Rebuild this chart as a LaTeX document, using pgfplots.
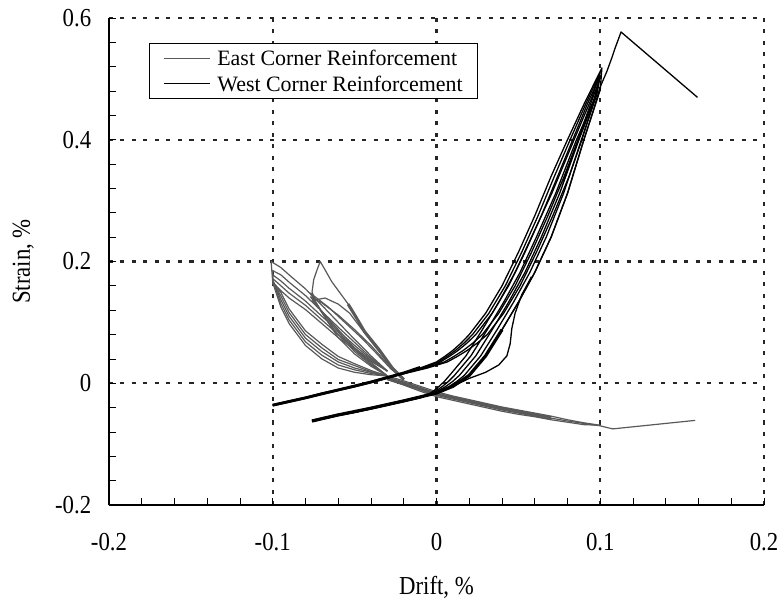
\documentclass[border=0pt]{standalone}
\usepackage{fontspec}
\setmainfont{Liberation Serif}
\newfontfamily\tallfont{Liberation Serif}[FakeStretch=0.88]
\usepackage{pgfplots}
\pgfplotsset{compat=1.18}
\definecolor{eastgray}{HTML}{595959}
\tikzset{
  east/.style={eastgray, line width=1.2bp, line join=round},
  west/.style={black, line width=1.3bp, line join=round},
}

\begin{document}
\fontsize{23}{27}\selectfont
\begin{tikzpicture}
\path[use as bounding box] (-109bp,-99bp) rectangle (674bp,505bp);
\begin{axis}[
  at={(0,0)}, anchor=south west,
  scale only axis, width=655bp, height=487bp,
  xmin=-0.2, xmax=0.2, ymin=-0.2, ymax=0.6,
  xtick={-0.2,-0.1,0,0.1,0.2},
  ytick={-0.2,0,0.2,0.4,0.6},
  minor x tick num=4, minor y tick num=4,
  axis x line*=bottom, axis y line*=left,
  tick align=inside,
  major tick length=7bp, minor tick length=7bp,
  every tick/.style={black, line width=0.8bp},
  axis line style={black, line width=1.3bp},
  grid=major,
  major grid style={black!85, line width=2.4bp, dash pattern=on 4bp off 7.5bp},
  tick label style={font=\tallfont\fontsize{26}{30}\selectfont},
  /pgf/number format/assume math mode=true,
  xticklabel style={yshift=-20bp},
  yticklabel style={xshift=-10bp},
  xlabel={Drift, \%}, ylabel={Strain, \%},
  label style={font=\tallfont\fontsize{26}{30}\selectfont},
  xlabel style={at={(axis description cs:0.5,-0.17)}, anchor=center},
  ylabel style={at={(axis description cs:-0.131,0.5)}, anchor=center},
]

% ---------------- East corner (grey) ----------------
% band towards positive drift
\addplot[east, line width=3.5bp] coordinates {
  (-0.030,0.008) (-0.020,0.000) (-0.010,-0.009) (0.000,-0.018) (0.010,-0.024)
  (0.020,-0.030) (0.030,-0.036) (0.040,-0.042) (0.050,-0.047) (0.060,-0.052)
  (0.070,-0.057)};
\addplot[east] coordinates {
  (-0.030,0.012) (-0.020,0.004) (-0.010,-0.005) (0.000,-0.014) (0.010,-0.021)
  (0.020,-0.027) (0.030,-0.033) (0.040,-0.039) (0.050,-0.044) (0.060,-0.049)
  (0.070,-0.054) (0.080,-0.060) (0.090,-0.065) (0.100,-0.069)
  (0.090,-0.068) (0.080,-0.064) (0.070,-0.060) (0.060,-0.055) (0.050,-0.051)
  (0.040,-0.046) (0.030,-0.040) (0.020,-0.034) (0.010,-0.028) (0.000,-0.022)
  (-0.010,-0.013) (-0.020,-0.003) (-0.030,0.006)};
\addplot[east] coordinates {
  (-0.025,0.004) (0.000,-0.019) (0.050,-0.048) (0.080,-0.062) (0.090,-0.066)
  (0.100,-0.070) (0.1076,-0.075) (0.158,-0.061)};
% loops at drift -0.1
\addplot[east] coordinates {
  (-0.030,0.012) (-0.040,0.014) (-0.050,0.018) (-0.060,0.025) (-0.070,0.040)
  (-0.080,0.062) (-0.090,0.098) (-0.095,0.125) (-0.100,0.165) (-0.101,0.200)
  (-0.095,0.190) (-0.090,0.178) (-0.080,0.155) (-0.070,0.128) (-0.060,0.100)
  (-0.050,0.072) (-0.040,0.045) (-0.030,0.020)};
\addplot[east] coordinates {
  (-0.030,0.012) (-0.040,0.016) (-0.050,0.022) (-0.060,0.030) (-0.070,0.046)
  (-0.080,0.068) (-0.090,0.104) (-0.095,0.131) (-0.100,0.168) (-0.100,0.185)
  (-0.095,0.178) (-0.090,0.166) (-0.080,0.144) (-0.070,0.118) (-0.060,0.092)
  (-0.050,0.067) (-0.040,0.042) (-0.030,0.020)};
\addplot[east] coordinates {
  (-0.030,0.012) (-0.040,0.018) (-0.050,0.025) (-0.060,0.035) (-0.070,0.052)
  (-0.080,0.074) (-0.090,0.110) (-0.095,0.137) (-0.100,0.170) (-0.100,0.178)
  (-0.095,0.168) (-0.090,0.156) (-0.080,0.135) (-0.070,0.110) (-0.060,0.086)
  (-0.050,0.062) (-0.040,0.040) (-0.030,0.020)};
\addplot[east] coordinates {
  (-0.030,0.012) (-0.040,0.019) (-0.050,0.029) (-0.060,0.039) (-0.070,0.058)
  (-0.080,0.080) (-0.090,0.116) (-0.095,0.143) (-0.100,0.168) (-0.100,0.172)
  (-0.095,0.160) (-0.090,0.148) (-0.080,0.128) (-0.070,0.104) (-0.060,0.080)
  (-0.050,0.058) (-0.040,0.038) (-0.030,0.020)};
\addplot[east] coordinates {
  (-0.030,0.012) (-0.040,0.021) (-0.050,0.032) (-0.060,0.044) (-0.070,0.064)
  (-0.080,0.086) (-0.090,0.122) (-0.095,0.149) (-0.100,0.164) (-0.100,0.166)
  (-0.095,0.152) (-0.090,0.140) (-0.080,0.121) (-0.070,0.098) (-0.060,0.075)
  (-0.050,0.055) (-0.040,0.036) (-0.030,0.020)};
% loops at drift -0.075
\addplot[east] coordinates {
  (-0.030,0.012) (-0.040,0.028) (-0.050,0.048) (-0.060,0.075) (-0.065,0.095)
  (-0.070,0.117) (-0.074,0.135) (-0.076,0.150) (-0.075,0.170) (-0.073,0.186)
  (-0.071,0.200) (-0.068,0.186) (-0.064,0.167) (-0.058,0.145) (-0.052,0.123)
  (-0.044,0.085) (-0.035,0.055) (-0.027,0.025) (-0.020,0.008)};
\addplot[east] coordinates {
  (-0.030,0.012) (-0.040,0.030) (-0.050,0.052) (-0.060,0.080) (-0.066,0.100)
  (-0.071,0.120) (-0.075,0.138) (-0.077,0.148) (-0.066,0.125) (-0.056,0.100)
  (-0.046,0.075) (-0.037,0.050) (-0.028,0.024) (-0.020,0.006)};
\addplot[east] coordinates {
  (-0.030,0.012) (-0.040,0.032) (-0.050,0.055) (-0.060,0.084) (-0.066,0.104)
  (-0.072,0.125) (-0.077,0.142) (-0.070,0.132) (-0.060,0.112) (-0.050,0.088)
  (-0.040,0.062) (-0.032,0.038) (-0.025,0.018) (-0.020,0.006)};
\addplot[east] coordinates {
  (-0.030,0.012) (-0.040,0.034) (-0.050,0.058) (-0.060,0.088) (-0.068,0.112)
  (-0.074,0.130) (-0.076,0.136) (-0.068,0.140) (-0.060,0.130) (-0.053,0.115)
  (-0.046,0.090) (-0.038,0.062) (-0.030,0.035) (-0.022,0.010)};
\addplot[east, line width=3bp] coordinates {
  (-0.054,0.130) (-0.049,0.108) (-0.044,0.085) (-0.035,0.055) (-0.027,0.025)
  (-0.020,0.006)};

% ---------------- West corner (black) ----------------
% thick overlapping parts
\addplot[west, line width=3.2bp] coordinates {
  (-0.076,-0.062) (-0.060,-0.052) (-0.040,-0.041) (-0.020,-0.029)
  (0.000,-0.016) (0.010,-0.005) (0.020,0.013) (0.030,0.045) (0.040,0.088)};
\addplot[west, line width=2.8bp] coordinates {
  (-0.100,-0.036) (-0.080,-0.024) (-0.060,-0.011) (-0.040,0.002)
  (-0.020,0.017) (-0.010,0.026)};
% first loading branch
\addplot[west] coordinates {
  (0.000,-0.016) (0.010,-0.005) (0.020,0.008) (0.030,0.018) (0.038,0.030)
  (0.043,0.045) (0.045,0.065) (0.046,0.090) (0.048,0.115) (0.052,0.145)
  (0.058,0.175)};
% loop 1
\addplot[west] coordinates {
  (-0.076,-0.062) (-0.070,-0.058) (-0.060,-0.052) (-0.050,-0.047) (-0.040,-0.041)
  (-0.030,-0.035) (-0.020,-0.029) (-0.010,-0.023) (0.000,-0.016) (0.005,-0.011)
  (0.010,-0.005) (0.015,0.003) (0.020,0.013) (0.030,0.045) (0.040,0.088)
  (0.050,0.133) (0.060,0.182) (0.070,0.240) (0.080,0.312) (0.090,0.400)
  (0.100,0.482) (0.101,0.518)
  (0.090,0.458) (0.080,0.400) (0.070,0.340) (0.060,0.275) (0.050,0.215)
  (0.040,0.160) (0.030,0.115) (0.020,0.080) (0.015,0.066) (0.010,0.054)
  (0.005,0.044) (0.000,0.035) (-0.010,0.025) (-0.020,0.017) (-0.030,0.009)
  (-0.040,0.002) (-0.050,-0.005) (-0.060,-0.011) (-0.070,-0.017) (-0.080,-0.024)
  (-0.090,-0.030) (-0.100,-0.036)};
% loop 2
\addplot[west] coordinates {
  (-0.076,-0.061) (-0.070,-0.057) (-0.060,-0.051) (-0.050,-0.046) (-0.040,-0.040)
  (-0.030,-0.034) (-0.020,-0.028) (-0.010,-0.022) (-0.0009,-0.016) (0.0035,-0.011)
  (0.0079,-0.005) (0.0124,0.003) (0.017,0.013) (0.027,0.045) (0.037,0.088)
  (0.047,0.133) (0.057,0.182) (0.067,0.240) (0.0776,0.312) (0.0885,0.400)
  (0.098,0.475) (0.100,0.505)
  (0.092,0.458) (0.0832,0.400) (0.074,0.340) (0.064,0.275) (0.054,0.215)
  (0.044,0.160) (0.034,0.115) (0.024,0.080) (0.0186,0.066) (0.0132,0.054)
  (0.0078,0.044) (0.0024,0.035) (-0.0084,0.025) (-0.0192,0.017) (-0.030,0.010)
  (-0.040,0.003) (-0.050,-0.004) (-0.060,-0.010) (-0.070,-0.016) (-0.080,-0.023)
  (-0.090,-0.029) (-0.100,-0.035)};
% loop 3
\addplot[west] coordinates {
  (-0.076,-0.063) (-0.070,-0.059) (-0.060,-0.053) (-0.050,-0.048) (-0.040,-0.042)
  (-0.030,-0.036) (-0.020,-0.030) (-0.010,-0.024) (-0.0018,-0.016) (0.002,-0.011)
  (0.0058,-0.005) (0.0099,0.003) (0.014,0.013) (0.024,0.045) (0.034,0.088)
  (0.044,0.133) (0.054,0.182) (0.064,0.240) (0.0752,0.312) (0.087,0.400)
  (0.097,0.470) (0.099,0.495)
  (0.094,0.458) (0.0864,0.400) (0.078,0.340) (0.068,0.275) (0.058,0.215)
  (0.048,0.160) (0.038,0.115) (0.028,0.080) (0.0222,0.066) (0.0164,0.054)
  (0.0106,0.044) (0.0048,0.035) (-0.0068,0.025) (-0.0184,0.017) (-0.030,0.008)
  (-0.040,0.001) (-0.050,-0.006) (-0.060,-0.012) (-0.070,-0.018) (-0.080,-0.025)
  (-0.090,-0.031) (-0.100,-0.037)};
% loop 4
\addplot[west] coordinates {
  (-0.075,-0.062) (-0.070,-0.058) (-0.060,-0.052) (-0.050,-0.047) (-0.040,-0.041)
  (-0.030,-0.035) (-0.020,-0.029) (-0.010,-0.023) (-0.0027,-0.016) (0.0005,-0.011)
  (0.0037,-0.005) (0.0073,0.003) (0.011,0.013) (0.021,0.045) (0.031,0.088)
  (0.041,0.133) (0.051,0.182) (0.061,0.240) (0.0728,0.312) (0.0855,0.400)
  (0.096,0.465) (0.099,0.490)
  (0.0955,0.458) (0.0888,0.400) (0.081,0.340) (0.071,0.275) (0.061,0.215)
  (0.051,0.160) (0.041,0.115) (0.031,0.080) (0.0249,0.066) (0.0188,0.054)
  (0.0127,0.044) (0.0066,0.035) (-0.0056,0.025) (-0.0178,0.017) (-0.030,0.009)
  (-0.040,0.002) (-0.050,-0.005) (-0.060,-0.011) (-0.070,-0.017) (-0.080,-0.024)
  (-0.090,-0.030) (-0.100,-0.036)};
% loop 5
\addplot[west] coordinates {
  (-0.076,-0.063) (-0.070,-0.059) (-0.060,-0.053) (-0.050,-0.048) (-0.040,-0.042)
  (-0.030,-0.036) (-0.020,-0.030) (-0.010,-0.024) (-0.0036,-0.016) (-0.001,-0.011)
  (0.0016,-0.005) (0.0048,0.003) (0.008,0.013) (0.018,0.045) (0.028,0.088)
  (0.038,0.133) (0.048,0.182) (0.058,0.240) (0.0704,0.312) (0.084,0.400)
  (0.095,0.470) (0.100,0.510)
  (0.091,0.458) (0.0816,0.400) (0.072,0.340) (0.062,0.275) (0.052,0.215)
  (0.042,0.160) (0.032,0.115) (0.022,0.080) (0.0168,0.066) (0.0116,0.054)
  (0.0064,0.044) (0.0012,0.035) (-0.0092,0.025) (-0.0196,0.017) (-0.030,0.009)
  (-0.040,0.002) (-0.050,-0.005) (-0.060,-0.011) (-0.070,-0.017) (-0.080,-0.024)
  (-0.090,-0.030) (-0.100,-0.036)};
% final excursion to the peak
\addplot[west] coordinates {
  (-0.076,-0.062) (-0.050,-0.047) (-0.020,-0.029) (0.000,-0.016) (0.010,-0.005)
  (0.020,0.013) (0.030,0.045) (0.040,0.088) (0.050,0.133) (0.060,0.182)
  (0.070,0.240) (0.080,0.312) (0.090,0.400) (0.096,0.450) (0.100,0.487)
  (0.104,0.512) (0.107,0.534) (0.109,0.550) (0.1127,0.577) (0.1594,0.4696)};

% legend box
\node[draw=black, line width=0.8bp, fill=white, anchor=north west,
      inner xsep=15bp, inner ysep=7bp, align=left,
      font=\fontsize{22}{25.5}\selectfont]
  at (rel axis cs:0.061,0.949)
  {{\color{eastgray}\rule[0.3em]{46bp}{1.2bp}}\hspace{7bp}East Corner Reinforcement\\
   {\color{black}\rule[0.3em]{46bp}{1.5bp}}\hspace{7bp}West Corner Reinforcement};
\end{axis}
\end{tikzpicture}
\end{document}
